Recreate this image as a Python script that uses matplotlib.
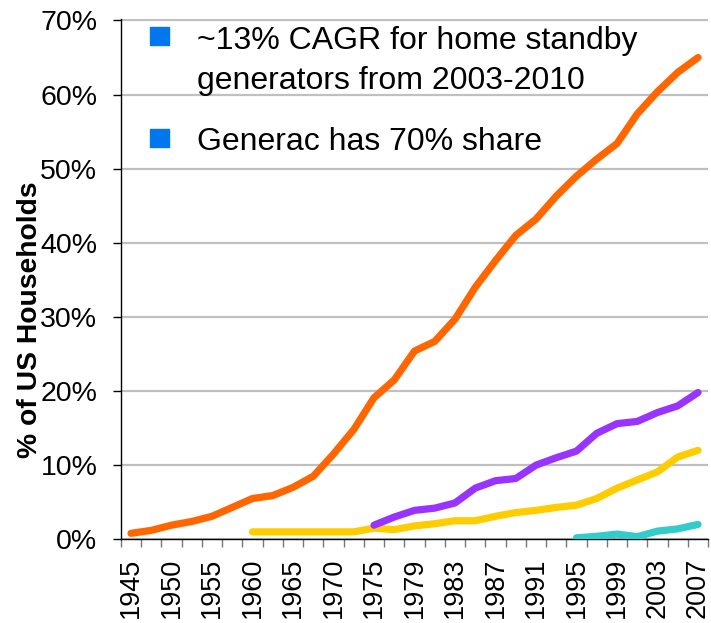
import numpy as np
import matplotlib
matplotlib.use("Agg")
import matplotlib.pyplot as plt
from matplotlib.ticker import FixedLocator, FuncFormatter
from matplotlib.patches import Rectangle

plt.rcParams['font.family'] = ['Liberation Sans', 'DejaVu Sans']

# categories (every other one is labelled on the axis)
years = [1945, 1947, 1950, 1952, 1955, 1957, 1960, 1962, 1965, 1967, 1970, 1972,
         1975, 1977, 1979, 1981, 1983, 1985, 1987, 1989, 1991, 1993, 1995, 1997,
         1999, 2001, 2003, 2005, 2007]
nan = np.nan

# % of US households
orange_vals = [0.8, 1.2, 1.9, 2.4, 3.1, 4.3, 5.5, 5.9, 7.0, 8.5, 11.5, 14.8, 19.1,
               21.5, 25.4, 26.7, 29.7, 34.0, 37.6, 41.0, 43.2, 46.3, 49.0, 51.3,
               53.4, 57.4, 60.4, 63.0, 65.0]
yellow_vals = [nan, nan, nan, nan, nan, nan, 1.0, 1.0, 1.0, 1.0, 1.0, 1.0, 1.5,
               1.3, 1.8, 2.1, 2.5, 2.5, 3.1, 3.6, 3.9, 4.3, 4.6, 5.5, 6.9, 8.0,
               9.1, 11.1, 12.0]
purple_vals = [nan] * 12 + [1.9, 3.0, 3.9, 4.2, 4.9, 6.9, 7.9, 8.2, 10.0, 11.0,
                            11.9, 14.3, 15.6, 15.9, 17.1, 18.0, 19.8]
teal_vals = [nan] * 22 + [0.2, 0.4, 0.7, 0.35, 1.1, 1.4, 2.0]

bullets = ["~13% CAGR for home standby", "generators from 2003-2010",
           "Generac has 70% share"]

fig = plt.figure(figsize=(7.11, 6.23), dpi=100, facecolor='white')
ax = fig.add_axes([0.170, 0.1344, 0.826, 0.8345])

x = np.arange(len(years))
line_kw = dict(lw=5.2, solid_capstyle='round', solid_joinstyle='round', zorder=3)
ax.plot(x, orange_vals, color='#FF6600', **line_kw)
ax.plot(x, yellow_vals, color='#FFCC00', **line_kw)
ax.plot(x, purple_vals, color='#9933FF', **line_kw)
ax.plot(x, teal_vals, color='#33CCCC', **line_kw)

ax.set_xlim(-0.5, len(years) - 0.5)
ax.set_ylim(0, 70.15)

# y axis
ax.set_yticks(np.arange(0, 71, 10))
ax.yaxis.set_major_formatter(FuncFormatter(lambda v, p: f"{int(v)}%"))
ax.tick_params(axis='y', length=6, width=1, color='black', labelsize=20.5, pad=11)
ax.yaxis.grid(True, color='#C0C0C0', lw=1.6)
ax.set_axisbelow(True)

# x axis: labels every 2nd category, tick marks at category borders
ax.xaxis.set_major_locator(FixedLocator(x[::2]))
ax.set_xticklabels([str(y) for y in years[::2]], rotation=90)
ax.xaxis.set_minor_locator(FixedLocator(np.arange(-0.5, len(years), 1)))
ax.tick_params(axis='x', which='major', length=0, labelsize=19.5, pad=13)
ax.tick_params(axis='x', which='minor', length=6, width=1, color='#777777')

for s in ['top', 'right']:
    ax.spines[s].set_visible(False)
ax.spines['left'].set_color('black')
ax.spines['bottom'].set_color('black')
ax.spines['left'].set_linewidth(1)
ax.spines['bottom'].set_linewidth(1)

fig.text(30 / 711, 1 - 320 / 623, "% of US Households", rotation=90,
         ha='center', va='center', fontsize=20.3, fontweight='bold')

# bullet notes
W, H = 711, 623
for ytop in [27, 129]:
    fig.patches.append(Rectangle((150 / W, 1 - (ytop + 18) / H), 19 / W, 18 / H,
                                 transform=fig.transFigure, color='#0077EE'))
for txt, base in zip(bullets, [49, 89, 150]):
    fig.text(197 / W, 1 - base / H, txt, fontsize=23, ha='left', va='baseline')

fig.savefig("out.png", dpi=100, facecolor='white')
